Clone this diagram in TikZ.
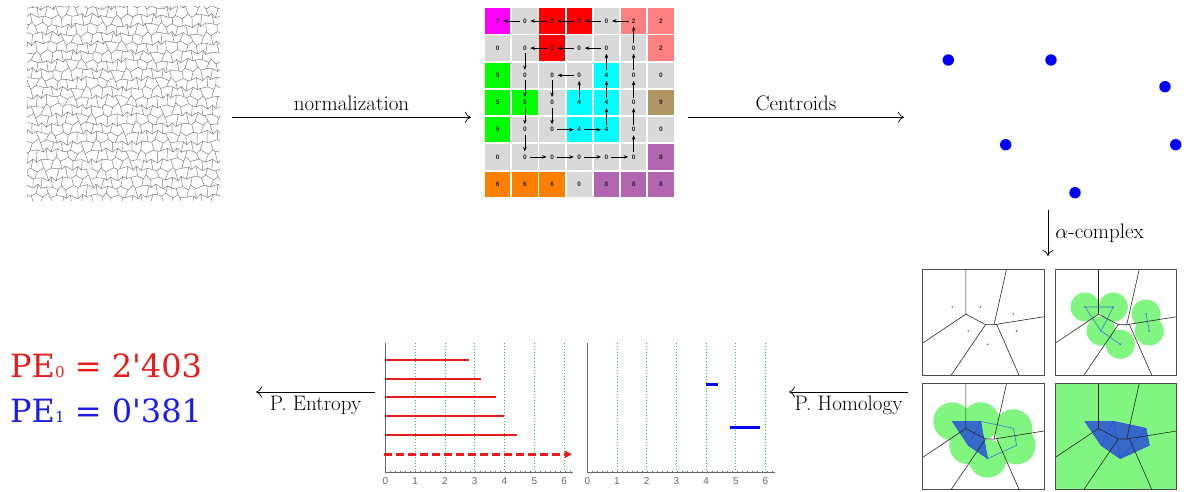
\documentclass[tikz,border=0pt]{standalone}
\usepackage{fontspec}
\newfontfamily\cellfont{Liberation Sans}
\newfontfamily\pefont{DejaVu Serif}[Ligatures=TeXOff]
\usetikzlibrary{arrows.meta}

\definecolor{cM}{RGB}{255,0,255}
\definecolor{cR}{RGB}{255,0,0}
\definecolor{cS}{RGB}{255,128,128}
\definecolor{cG}{RGB}{0,255,0}
\definecolor{cC}{RGB}{0,255,255}
\definecolor{cT}{RGB}{176,150,100}
\definecolor{cP}{RGB}{178,102,178}
\definecolor{cO}{RGB}{255,128,0}
\definecolor{cZ}{RGB}{217,217,217}
\definecolor{ballc}{RGB}{128,245,128}
\definecolor{simplexc}{RGB}{55,105,200}
\definecolor{edgec}{RGB}{40,80,225}
\definecolor{edgelight}{RGB}{60,120,210}
\definecolor{sitec}{RGB}{90,90,255}
\definecolor{gridgreen}{RGB}{40,200,40}
\definecolor{pered}{RGB}{232,28,28}
\definecolor{peblue}{RGB}{28,28,232}

% punti e celle di Voronoi di un riquadro (coordinate locali)
\newcommand{\vorpts}{%
  \coordinate (p1) at (30,38);
  \coordinate (p2) at (58.3,38);
  \coordinate (p3) at (91,45);
  \coordinate (p4) at (46,62);
  \coordinate (p5) at (94.3,62);
  \coordinate (p6) at (65.3,75.3);
  \coordinate (vA) at (43.5,45.2);
  \coordinate (vB) at (63.3,55.6);
  \coordinate (vC) at (71.7,55.8);
  \coordinate (vD) at (74.3,55.3);
}
\newcommand{\vorlines}{%
  \draw[voredge] (43.5,0) -- (vA) -- (0,74.3);
  \draw[voredge] (vA) -- (vB) -- (vC) -- (84.3,0);
  \draw[voredge] (vB) -- (29,106);
  \draw[voredge] (vC) -- (vD) -- (121.7,47.7);
  \draw[voredge] (vD) -- (96.7,106);
}

\begin{document}
\begin{tikzpicture}[x=1pt,y=-1pt,
  declare function={jx(\a,\b)=27+5*\a+1.5*sin(97.3*\a+211.7*\b)+0.7*sin(233.1*\a+47.3*\b);
                    jy(\a,\b)=7+9*\b+2.2*sin(151.3*\a+67.9*\b+30)+1.1*sin(29.7*\a+301.1*\b);}]
    % Definizione stili
    \tikzset{cell/.style={minimum size=25.3pt, inner sep=0pt, font=\cellfont\bfseries\fontsize{6.5}{7}\selectfont, text=black!85}}
    \tikzstyle{flow}=[-{Stealth[length=4.5pt,width=3.5pt]}, line width=0.6pt, shorten <=5pt, shorten >=5.5pt]
    \tikzstyle{stage}=[-{Computer Modern Rightarrow[length=6pt,width=11pt]}, line width=0.7pt]
    \tikzstyle{lbl}=[font=\fontsize{21}{25}\selectfont, inner sep=3pt]
    \tikzstyle{tess}=[line width=0.45pt, black!55]
    \tikzstyle{centroid}=[circle, fill=blue, minimum size=11.4pt, inner sep=0pt]
    \tikzstyle{voredge}=[line width=0.6pt, black!85]
    \tikzstyle{panel}=[line width=0.8pt, black!70]
    \tikzstyle{site}=[fill=sitec]
    \tikzstyle{ball}=[fill=ballc]
    \tikzstyle{simplexedge}=[line width=0.6pt, edgec]
    \tikzstyle{axisc}=[line width=0.8pt, black!60]
    \tikzstyle{gridg}=[line width=0.8pt, gridgreen, dash pattern=on 1pt off 2pt]
    \tikzstyle{tick}=[font=\cellfont\fontsize{10}{12}\selectfont, text=black!60, inner sep=0pt]
    \tikzstyle{barzero}=[line width=2pt, pered]
    \tikzstyle{barone}=[line width=3.5pt, blue]

    \useasboundingbox (0,0) rectangle (1188,492);

    % FASE 1: tassellazione di partenza
    \begin{scope}
        \clip (27,7) rectangle (220,200);
        \foreach \i in {-1,...,39} {
            \foreach \j in {-1,...,21} {
                \draw[tess] ({jx(\i,\j)},{jy(\i,\j)}) -- ({jx(\i+1,\j)},{jy(\i+1,\j)});
                \pgfmathtruncatemacro\brick{mod(\i+\j+4,2)}
                \ifnum\brick=0
                    \draw[tess] ({jx(\i,\j)},{jy(\i,\j)}) -- ({jx(\i,\j+1)},{jy(\i,\j+1)});
                \fi
            }
        }
    \end{scope}

    % FASE 2: griglia normalizzata
    \foreach \v/\col [count=\k from 0] in {
        7/cM,0/cZ,3/cR,3/cR,0/cZ,2/cS,2/cS,
        0/cZ,0/cZ,3/cR,0/cZ,0/cZ,0/cZ,2/cS,
        5/cG,0/cZ,0/cZ,0/cZ,4/cC,0/cZ,0/cZ,
        5/cG,5/cG,0/cZ,4/cC,4/cC,0/cZ,9/cT,
        5/cG,0/cZ,0/cZ,4/cC,4/cC,0/cZ,0/cZ,
        0/cZ,0/cZ,0/cZ,0/cZ,0/cZ,0/cZ,8/cP,
        6/cO,6/cO,6/cO,0/cZ,8/cP,8/cP,8/cP} {
        \pgfmathtruncatemacro\r{\k/7}
        \pgfmathtruncatemacro\c{mod(\k,7)}
        \node[cell, fill=\col] (g-\r-\c) at ({497.65+27.2*\c},{20.95+27.2*\r}) {\v};
    }
    \foreach \a/\b in {0-1/0-0, 0-2/0-1, 0-3/0-2, 0-4/0-3, 0-5/0-4,
                       1-2/1-1, 1-3/1-2, 1-4/1-3,
                       1-5/0-5, 2-5/1-5, 3-5/2-5, 4-5/3-5, 5-5/4-5,
                       2-4/1-4, 3-4/2-4, 4-4/3-4,
                       1-1/2-1, 2-1/3-1, 3-1/4-1, 4-1/5-1,
                       2-3/2-2, 2-2/3-2, 3-2/4-2, 3-3/2-3,
                       4-2/4-3, 4-3/4-4,
                       5-1/5-2, 5-2/5-3, 5-3/5-4, 5-4/5-5}
        \draw[flow] (g-\a.center) -- (g-\b.center);

    % FASE 3: centroidi
    \node[centroid] (c1) at (948.3,60) {};
    \node[centroid] (c2) at (1051,60) {};
    \node[centroid] (c3) at (1165,86.7) {};
    \node[centroid] (c4) at (1005.7,144.7) {};
    \node[centroid] (c5) at (1175.7,144.7) {};
    \node[centroid] (c6) at (1075,192.7) {};

    % FASE 4: alpha-complessi
    \begin{scope}[shift={(922.3,269)}]
        \vorpts
        \vorlines
        \foreach \p in {1,...,6} \fill[site] (p\p) circle (0.9pt);
        \draw[panel] (0,0) rectangle (121.7,106);
    \end{scope}
    \begin{scope}[shift={(1055,269)}]
        \vorpts
        \foreach \p in {1,...,6} \fill[ball] (p\p) circle (14.5pt);
        \vorlines
        \draw[simplexedge, edgelight] (p1) -- (p2) -- (p4) -- cycle (p4) -- (p6) (p3) -- (p5);
        \foreach \p in {1,...,6} \fill[site] (p\p) circle (0.9pt);
        \draw[panel] (0,0) rectangle (121.7,106);
    \end{scope}
    \begin{scope}[shift={(922.3,383.3)}]
        \vorpts
        \foreach \p in {1,...,6} \fill[ball] (p\p) circle (19pt);
        \fill[simplexc] (p1) -- (p2) -- (p6) -- (p4) -- cycle;
        \draw[simplexedge] (p1) -- (p2) -- (p6) -- (p4) -- cycle (p2) -- (p4);
        \draw[simplexedge, edgelight] (p2) -- (p3) -- (p5) -- (p6);
        \vorlines
        \draw[panel] (0,0) rectangle (121.7,106);
    \end{scope}
    \begin{scope}[shift={(1055,383.3)}]
        \vorpts
        \fill[ball] (0,0) rectangle (121.7,106);
        \fill[simplexc] (p1) -- (p2) -- (p3) -- (p5) -- (p6) -- (p4) -- cycle;
        \draw[simplexedge] (p1) -- (p2) -- (p3) -- (p5) -- (p6) -- (p4) -- cycle (p2) -- (p4) (p2) -- (p6) (p3) -- (p6);
        \vorlines
        \draw[panel] (0,0) rectangle (121.7,106);
    \end{scope}

    % FASE 5: barcode H0
    \draw[axisc] (385.3,343) coordinate (h0top) -- (385.3,472.3) coordinate (h0o) -- (573,472.3) coordinate (h0end);
    \foreach \t in {5,10,...,185} \draw[axisc, line width=0.5pt] (385.3+\t,472.3) -- ++(0,-1.6);
    \foreach \k in {1,...,6} \draw[gridg] ({385.3+29.8*\k},343) -- ++(0,128);
    \foreach \k in {0,...,6} \node[tick] at ({385.3+29.8*\k},481.5) {\k};
    \foreach \y/\e in {360/2.81, 378.7/3.22, 397.3/3.70, 416/3.99, 435/4.41}
        \draw[barzero] (385.3,\y) -- ({385.3+29.8*\e},\y);
    \draw[barzero, line width=2.6pt, dash pattern=on 8pt off 4pt, -{Triangle[length=7pt,width=7pt]}] (384.3,454.3) -- (572,454.3);

    % barcode H1
    \draw[axisc] (587.3,343) coordinate (h1top) -- (587.3,472.3) coordinate (h1o) -- (775,472.3) coordinate (h1end);
    \foreach \t in {5,10,...,185} \draw[axisc, line width=0.5pt] (587.3+\t,472.3) -- ++(0,-1.6);
    \foreach \k in {1,...,6} \draw[gridg] ({587.3+29.7*\k},343) -- ++(0,128);
    \foreach \k in {0,...,6} \node[tick] at ({587.3+29.7*\k},481.5) {\k};
    \draw[barone] ({587.3+29.7*4.0},384.3) -- ({587.3+29.7*4.4},384.3);
    \draw[barone] ({587.3+29.7*4.8},427.7) -- ({587.3+29.7*5.8},427.7);

    % FASE 6: entropia persistente
    \node[anchor=base west, inner sep=0pt, text=pered, font=\pefont\fontsize{32}{36}\selectfont] (pe0) at (10,377.7)
        {PE{\fontsize{15}{15}\selectfont 0} = 2'403};
    \node[anchor=base west, inner sep=0pt, text=peblue, font=\pefont\fontsize{32}{36}\selectfont] (pe1) at (10,422.3)
        {PE{\fontsize{15}{15}\selectfont 1} = 0'381};

    % Frecce tra le fasi
    \coordinate (tessR) at (232,117.3);
    \coordinate (gridL) at (471,117.3);
    \coordinate (gridR) at (688,117.3);
    \coordinate (centL) at (904,117.3);
    \coordinate (centB) at (1048,210);
    \coordinate (alphaT) at (1048,256);
    \coordinate (alphaL) at (908,392);
    \coordinate (barR) at (789,392);
    \coordinate (barL) at (375,392);
    \coordinate (peR) at (256,392);
    \draw[stage] (tessR) -- node[lbl, above=3pt] {normalization} (gridL);
    \draw[stage] (gridR) -- node[lbl, above=3pt] {Centroids} (centL);
    \draw[stage] (centB) -- node[lbl, right=4pt] {$\alpha$-complex} (alphaT);
    \draw[stage] (alphaL) -- node[lbl, below=1pt] {P. Homology} (barR);
    \draw[stage] (barL) -- node[lbl, below=1pt] {P. Entropy} (peR);
\end{tikzpicture}
\end{document}
